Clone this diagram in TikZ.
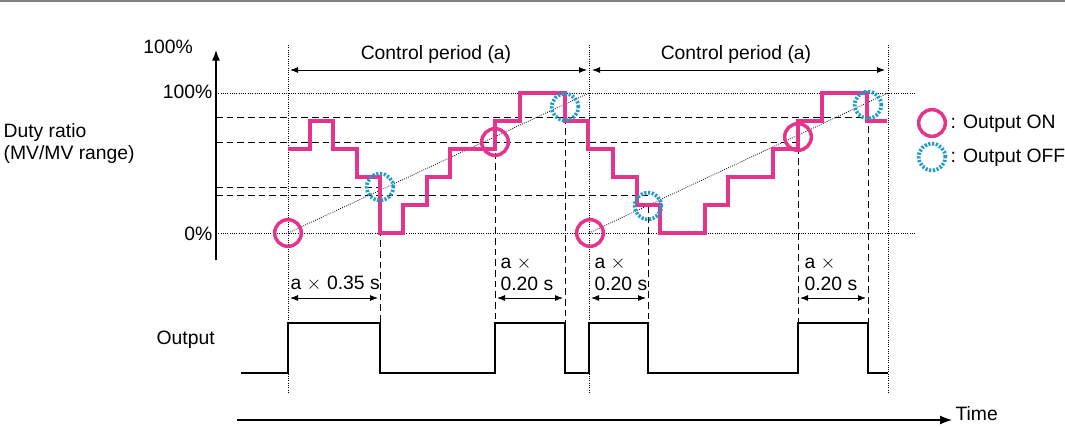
\documentclass[tikz,border=0pt]{standalone}
\usepackage{fontspec}
\setmainfont{Liberation Sans}
\usetikzlibrary{arrows.meta}
\definecolor{pk}{RGB}{229,52,140}
\definecolor{bl}{RGB}{30,155,200}
\begin{document}
\begin{tikzpicture}[x=0.75pt,y=-0.75pt,
  txt/.style={font=\fontsize{14.5}{16.5}\selectfont,inner sep=1pt},
  dots/.style={densely dotted,line width=0.7pt},
  dsh/.style={dash pattern=on 5pt off 3pt,line width=0.7pt},
  pink/.style={pk,line width=3.2pt},
  onc/.style={circle,draw=pk,line width=2.6pt,minimum size=20pt,inner sep=0pt},
  offc/.style={circle,draw=bl,line width=2.8pt,dash pattern=on 1.6pt off 1.2pt,minimum size=20pt,inner sep=0pt},
  dim/.style={{Latex[length=6pt]}-{Latex[length=6pt]},line width=0.7pt}]
\useasboundingbox (0,0) rectangle (1065,426);
\fill[white] (0,0) rectangle (1065,426);
\draw[gray,line width=0.8pt] (0,1) -- (1065,1);
% axis
\coordinate (ab) at (216,260); \coordinate (at) at (216,50);
\draw[-{Latex[length=8pt]},line width=0.8pt] (ab) -- (at);
\node[txt] (t100) at (168,47) {100\%};
\node[txt,anchor=east] (y100) at (214,92) {100\%};
\node[txt,anchor=east] (y0) at (214,234) {0\%};
\node[txt,align=left,anchor=west] (duty) at (2,143) {Duty ratio\\(MV/MV range)};
\node[txt,anchor=west] (out) at (155,340) {Output};
% dotted reference lines
\draw[dots] (216,93) -- (915,93);
\draw[dots] (216,233) -- (915,233);
\foreach \x in {288,589,888} \draw[dots] (\x,45) -- (\x,394);
% dashed lines
\draw[dsh] (216,117) -- (868,117);
\draw[dsh] (216,142) -- (798,142);
\draw[dsh] (216,187) -- (380,187);
\draw[dsh] (216,195) -- (648,195);
\foreach \x/\y in {380/187,495/142,565/107,648/206,798/137,868/105} \draw[dsh] (\x,\y) -- (\x,322);
% diagonals
\draw[dots,line width=0.6pt] (288,233) -- (589,93);
\draw[dots,line width=0.6pt] (589,233) -- (888,93);
% pink steps
\draw[pink] (288,149) -| (310,121) -| (333,149) -| (357,177) -| (380,233) -| (403,205) -| (427,177) -| (450,149) -| (495,121) -| (520,93) -| (565,121) -| (588,149) -| (613,177) -| (637,205) -| (660,233) -| (705,205) -| (728,177) -| (773,149) -| (798,121) -| (822,93) -| (867,121) -- (887,121);
% circles
\node[onc] (on1) at (288,233) {};
\node[onc] (on2) at (495,142) {};
\node[onc] (on3) at (590,233) {};
\node[onc] (on4) at (798,137) {};
\node[offc] (of1) at (380,187) {};
\node[offc] (of2) at (565,107) {};
\node[offc] (of3) at (648,206) {};
\node[offc] (of4) at (868,105) {};
% legend
\node[onc] (lon) at (932,123) {};
\node[txt,anchor=west] (lont) at (949,124) {: Output ON};
\node[offc] (loff) at (932,157) {};
\node[txt,anchor=west] (lofft) at (949,158) {: Output OFF};
% control period
\coordinate (c1a) at (290,70); \coordinate (c1b) at (587,70);
\coordinate (c2a) at (592,70); \coordinate (c2b) at (885,70);
\draw[dim] (c1a) -- (c1b);
\draw[dim] (c2a) -- (c2b);
\node[txt] (cp1) at (436,54) {Control period (a)};
\node[txt] (cp2) at (736,54) {Control period (a)};
% dimension arrows
\coordinate (d1a) at (290,298); \coordinate (d1b) at (378,298);
\coordinate (d2a) at (497,298); \coordinate (d2b) at (563,298);
\coordinate (d3a) at (591,298); \coordinate (d3b) at (646,298);
\coordinate (d4a) at (800,298); \coordinate (d4b) at (866,298);
\draw[dim] (d1a) -- (d1b);
\draw[dim] (d2a) -- (d2b);
\draw[dim] (d3a) -- (d3b);
\draw[dim] (d4a) -- (d4b);
\node[txt,anchor=west] (l1) at (289,284) {a $\times$ 0.35 s};
\node[txt,anchor=west,align=left] (l2) at (499,274) {a $\times$\\0.20 s};
\node[txt,anchor=west,align=left] (l3) at (593,274) {a $\times$\\0.20 s};
\node[txt,anchor=west,align=left] (l4) at (803,274) {a $\times$\\0.20 s};
% output waveform
\draw[line width=0.8pt] (241,373) -| (288,323) -| (380,373) -| (495,323) -| (565,373) -| (589,323) -| (648,373) -| (798,323) -| (868,373) -- (888,373);
% time axis
\coordinate (ta) at (237,420); \coordinate (tb) at (952,420);
\draw[-{Latex[length=9pt]},line width=0.8pt] (ta) -- (tb);
\node[txt,anchor=west] (time) at (954,414) {Time};
\end{tikzpicture}
\end{document}
